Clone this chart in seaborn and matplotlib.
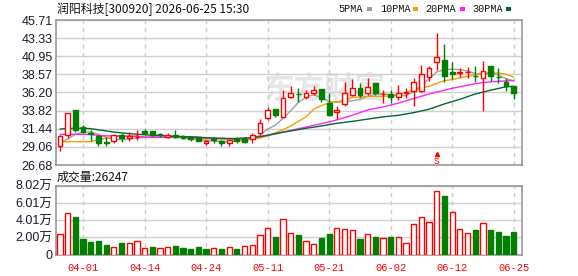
import numpy as np
import pandas as pd
import seaborn as sns
import matplotlib
matplotlib.use('Agg')
import matplotlib.pyplot as plt
from matplotlib.patches import Rectangle

title = '润阳科技[300920] 2026-06-25 15:30'

opens = [29.22, 30.62, 33.9, 31.62, 30.93, 30.49, 29.74, 29.83, 30.62, 30.18,
         30.38, 31.18, 31.14, 30.75, 30.4, 30.62, 30.49, 30.4, 30.18, 29.52,
         30.14, 29.83, 29.52, 30.05, 30.05, 30.05, 30.84, 32.8, 33.99, 33.02,
         35.56, 36.05, 35.65, 36.08, 36.65, 34.77, 33.59, 34.7, 35.87, 36.74,
         36.08, 37.4, 35.96, 35.96, 35.65, 36.17, 36.44, 36.39, 38.27, 40.24,
         40.46, 38.93, 38.8, 38.9, 38.4, 38.06, 39.67, 38.27, 37.62, 37.05]
highs = [30.6, 33.46, 33.9, 31.93, 31.27, 30.6, 30.31, 30.7, 30.93, 31.05,
         31.27, 31.36, 31.2, 30.84, 30.84, 31.27, 30.66, 30.5, 30.3, 29.96,
         30.4, 29.96, 30.0, 30.4, 30.31, 30.84, 32.67, 34.34, 34.0, 36.52,
         37.05, 36.74, 36.52, 37.05, 36.7, 36.08, 34.42, 37.62, 37.92, 37.49,
         38.05, 37.4, 36.52, 36.52, 37.18, 36.74, 38.06, 39.8, 39.67, 44.05,
         42.56, 40.24, 39.37, 39.58, 39.67, 40.33, 39.7, 39.37, 38.06, 37.1]
lows = [28.5, 30.18, 31.05, 30.84, 29.87, 29.17, 29.17, 29.61, 29.66, 29.87,
        29.96, 30.62, 30.5, 30.31, 30.18, 30.18, 30.05, 29.87, 29.8, 29.3,
        29.52, 29.17, 29.17, 29.52, 29.52, 29.52, 30.62, 32.59, 32.94, 32.94,
        35.43, 35.0, 35.3, 35.87, 34.9, 33.1, 32.72, 34.47, 35.74, 35.65,
        35.83, 35.87, 34.77, 34.86, 35.21, 35.43, 34.47, 36.3, 37.7, 39.15,
        37.53, 37.92, 38.19, 38.05, 37.62, 33.81, 37.75, 37.49, 36.39, 35.3]
closes = [30.49, 33.46, 31.27, 31.06, 30.71, 29.61, 29.52, 30.62, 30.18, 30.49,
          30.42, 30.84, 30.62, 30.57, 30.62, 30.31, 30.18, 30.14, 29.83, 29.87,
          29.96, 29.52, 29.92, 29.83, 29.74, 30.62, 32.24, 33.9, 33.24, 35.43,
          36.09, 35.98, 36.17, 36.52, 35.34, 33.24, 33.9, 36.08, 36.74, 35.87,
          36.87, 36.08, 36.0, 35.56, 36.17, 36.3, 37.62, 38.58, 39.37, 40.81,
          38.4, 38.62, 38.85, 38.95, 38.35, 39.02, 38.36, 38.19, 37.05, 36.17]

ma5 = [29.6, 30.1, 30.7, 31.0, 31.0, 30.7, 30.3, 30.0, 30.0, 30.1,
       30.2, 30.3, 30.4, 30.5, 30.5, 30.4, 30.2, 30.1, 30.0, 29.9,
       29.8, 29.8, 29.75, 29.8, 29.9, 30.1, 30.6, 31.4, 31.9, 32.8,
       33.8, 34.9, 35.6, 35.9, 35.5, 35.0, 34.9, 35.0, 35.1, 35.3,
       35.7, 36.0, 36.0, 35.9, 35.8, 35.8, 36.3, 37.1, 38.0, 38.9,
       39.2, 39.25, 39.2, 39.0, 38.7, 38.5, 38.8, 38.5, 38.0, 37.75]
ma10 = [29.74, 29.74, 29.74, 29.74, 29.74, 30.0, 30.2, 30.4, 30.48, 30.48,
        30.48, 30.3, 30.3, 30.3, 30.3, 30.3, 30.3, 30.1, 30.1, 30.1,
        30.1, 30.1, 30.1, 30.0, 30.0, 30.05, 30.2, 30.5, 30.9, 31.3,
        31.8, 32.4, 33.0, 34.0, 34.5, 34.8, 35.0, 35.2, 35.55, 35.6,
        35.67, 35.68, 35.7, 35.75, 35.85, 36.2, 36.5, 36.8, 37.0, 37.4,
        37.75, 37.9, 38.1, 38.3, 38.55, 38.7, 38.8, 38.75, 38.6, 38.2]
ma20 = [30.7, 30.72, 30.72, 30.7, 30.7, 30.55, 30.5, 30.5, 30.5, 30.45,
        30.45, 30.35, 30.3, 30.3, 30.3, 30.35, 30.4, 30.4, 30.35, 30.25,
        30.2, 30.15, 30.15, 30.15, 30.2, 30.3, 30.4, 30.55, 30.75, 31.0,
        31.2, 31.45, 31.65, 31.9, 32.1, 32.35, 32.6, 32.9, 33.2, 33.55,
        33.9, 34.1, 34.3, 34.55, 34.8, 35.1, 35.4, 35.7, 36.0, 36.25,
        36.5, 36.75, 36.95, 37.15, 37.35, 37.5, 37.6, 37.66, 37.72, 37.75]
ma30 = [31.4, 31.45, 31.5, 31.5, 31.45, 31.3, 31.15, 31.0, 30.9, 30.8,
        30.72, 30.65, 30.6, 30.55, 30.5, 30.45, 30.4, 30.35, 30.3, 30.25,
        30.2, 30.18, 30.15, 30.15, 30.2, 30.28, 30.4, 30.6, 30.8, 30.98,
        31.15, 31.32, 31.5, 31.65, 31.8, 31.98, 32.15, 32.28, 32.4, 32.55,
        32.7, 32.85, 33.0, 33.1, 33.2, 33.38, 33.55, 33.78, 34.0, 34.35,
        34.7, 35.0, 35.3, 35.65, 36.0, 36.25, 36.5, 36.72, 36.95, 37.0]

# volume in 万
volume = [2.36, 4.8, 4.34, 1.78, 1.47, 1.55, 1.08, 0.93, 1.32, 1.32,
          1.55, 0.74, 0.85, 0.74, 0.93, 0.97, 0.74, 0.62, 0.85, 0.62,
          0.74, 0.62, 0.85, 0.62, 0.97, 1.08, 2.25, 3.06, 2.0, 4.2,
          2.5, 2.29, 1.6, 1.2, 1.94, 2.4, 3.06, 2.95, 2.83, 1.82,
          2.36, 2.05, 1.9, 2.05, 2.05, 1.32, 3.53, 4.34, 3.76, 7.36,
          6.86, 4.92, 2.95, 2.48, 2.87, 3.64, 2.87, 2.64, 2.17, 2.62]
vol_up = [1, 1, 0, 0, 0, 0, 0, 1, 0, 1,
          1, 1, 0, 1, 1, 0, 0, 0, 0, 0,
          1, 0, 1, 0, 1, 1, 1, 1, 0, 1,
          1, 0, 1, 1, 0, 0, 1, 1, 1, 0,
          1, 0, 1, 0, 1, 1, 1, 1, 1, 1,
          0, 1, 1, 1, 0, 1, 0, 0, 0, 0]
last_volume = 26247

date_pos = [3, 11, 19, 27, 35, 43, 51, 59]
date_labels = ['04-01', '04-14', '04-24', '05-11', '05-21', '06-02', '06-12', '06-25']
price_ticks = [26.68, 29.06, 31.44, 33.82, 36.20, 38.57, 40.95, 43.33, 45.71]
vol_ticks = [0, 2.00, 4.01, 6.01, 8.02]
vol_labels = ['0', '2.00万', '4.01万', '6.01万', '8.02万']
signal_idx = 49

ma_names = ['5PMA', '10PMA', '20PMA', '30PMA']
ma_colors = ['#a0a0a0', '#f5a000', '#ff22ff', '#006a30']

RED = '#ff0000'
GREEN = '#008000'

sns.set_style('white')
plt.rcParams['font.family'] = ['Liberation Sans', 'Noto Sans CJK SC', 'DejaVu Sans']

W, H = 578, 276
fig = plt.figure(figsize=(W / 100, H / 100), dpi=100)
L, R = 56, 522
ax = fig.add_axes([L / W, 1 - 165 / H, (R - L) / W, 145 / H])
axv = fig.add_axes([L / W, 1 - 254.7 / H, (R - L) / W, 69 / H])

x = np.arange(len(closes))
o = np.array(opens)
c = np.array(closes)
up = c >= o
ccol = np.where(up, RED, GREEN)

# watermark
ax.text(0.575, 0.53, '东方财富', transform=ax.transAxes, fontsize=22, fontweight='bold',
        color='#e6e6e6', ha='center', va='center', zorder=0,
        family=['Noto Sans CJK SC'])

# moving averages
ma_df = pd.DataFrame({'idx': x, '5PMA': ma5, '10PMA': ma10, '20PMA': ma20, '30PMA': ma30})
ma_long = ma_df.melt(id_vars='idx', var_name='ma', value_name='price')
sns.lineplot(data=ma_long, x='idx', y='price', hue='ma', hue_order=ma_names,
             palette=ma_colors, linewidth=1.0, legend=False, ax=ax, zorder=2)

# candles
ax.vlines(x, lows, highs, colors=ccol, linewidth=1.0, zorder=3)
body_lo = np.minimum(o, c)
body_h = np.maximum(np.abs(c - o), 0.02)
ax.bar(x, body_h, bottom=body_lo, width=0.62,
       facecolor=np.where(up, 'white', GREEN), edgecolor=ccol, linewidth=1.0, zorder=4)

# signal marker
ax.plot([signal_idx], [28.15], marker='^', markersize=3, color=RED, zorder=5)
ax.text(signal_idx, 27.2, 'S', color=RED, fontsize=6.5, ha='center', va='center',
        family=['Liberation Mono'], zorder=5)

ax.set_xlim(-0.52, 60.08)
ax.set_ylim(price_ticks[0], price_ticks[-1])
ax.set_yticks(price_ticks)
ax.set_yticklabels([f'{t:.2f}' for t in price_ticks], fontsize=9, color='#1a1a2e')
ax.set_xticks(date_pos)
ax.set_xticklabels([])
ax.set_xlabel('')
ax.set_ylabel('')

# volume
vcol = [RED if u else GREEN for u in vol_up]
vface = ['white' if u else GREEN for u in vol_up]
axv.bar(x, volume, width=0.68, facecolor=vface, edgecolor=vcol, linewidth=1.0, zorder=3)
axv.set_xlim(-0.52, 60.08)
axv.set_ylim(0, 8.02)
axv.set_yticks(vol_ticks)
axv.set_yticklabels(vol_labels, fontsize=9, color='#1a1a2e')
axv.set_xticks(date_pos)
axv.set_xticklabels(date_labels, fontsize=7.5, color=RED, family=['Liberation Mono'])

for a in (ax, axv):
    a.tick_params(length=0, pad=2.5)
    a.yaxis.grid(True, color='#d0d0d0', linewidth=1.0, linestyle='-', zorder=1)
    a.xaxis.grid(True, color='#cccccc', linewidth=1.0, linestyle=(0, (3, 3)), zorder=1)
    a.set_axisbelow(True)
    for s in a.spines.values():
        s.set_color('#999999')
        s.set_linewidth(1.2)
axv.tick_params(axis='x', pad=6)

# header texts
fig.text(57 / W, 1 - 9 / H, title, fontsize=8.6, va='center', ha='left',
         color='#111111', family=['Noto Sans CJK SC'])
fig.text(57 / W, 1 - 177 / H, f'成交量:{last_volume}', fontsize=8.6, va='center',
         ha='left', color='#111111', family=['Noto Sans CJK SC'])

leg_x = [338, 380, 425, 472]
sq_x = [367, 413, 460, 506]
for name, col, tx, sx in zip(ma_names, ma_colors, leg_x, sq_x):
    fig.text(tx / W, 1 - 9 / H, name, fontsize=7.3, va='center', ha='left',
             color='#111111', family=['Liberation Mono'])
    fig.patches.append(Rectangle((sx / W, 1 - 10.5 / H), 5 / W, 3.5 / H,
                                 transform=fig.transFigure, facecolor=col,
                                 edgecolor='none'))

fig.savefig('out.png', dpi=100)
